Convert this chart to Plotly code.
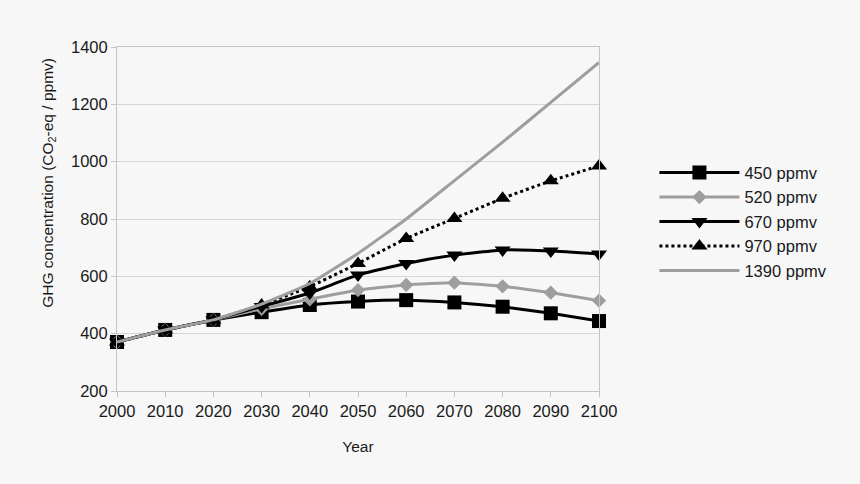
import plotly.graph_objects as go

# Years and GHG concentration scenarios (CO2-eq, ppmv)
years = [2000, 2010, 2020, 2030, 2040, 2050, 2060, 2070, 2080, 2090, 2100]
s450 = [371, 413, 448, 475, 500, 512, 517, 509, 494, 471, 444]
s520 = [371, 413, 448, 487, 520, 552, 570, 578, 565, 543, 515]
s670 = [371, 413, 448, 495, 542, 605, 645, 674, 692, 688, 678]
s970 = [371, 413, 448, 500, 564, 645, 732, 802, 872, 933, 985]
s1390 = [371, 413, 448, 503, 575, 680, 800, 934, 1068, 1207, 1346]

black = '#000000'
grey = '#9e9e9e'
txt = '#1a1a1a'

fig = go.Figure()

series = [
    ('450 ppmv', s450, black, 'solid', 'square', 14),
    ('520 ppmv', s520, grey, 'solid', 'diamond', 11),
    ('670 ppmv', s670, black, 'solid', 'triangle-down', 14),
    ('970 ppmv', s970, black, 'dot', 'triangle-up', 14),
    ('1390 ppmv', s1390, grey, 'solid', None, 0),
]

for i, (name, vals, col, dash, sym, size) in enumerate(series):
    fig.add_trace(go.Scatter(
        x=years, y=vals, name=name,
        mode='lines+markers' if sym else 'lines',
        line=dict(color=col, width=3, dash=dash, shape='spline', smoothing=0.4),
        marker=dict(symbol=sym, size=size, color=col) if sym else None,
        cliponaxis=False, legendgroup=str(i),
    ))

axis_common = dict(
    showline=True, linecolor='#c4c4c4', linewidth=1, mirror=True,
    ticks='outside', ticklen=5, tickcolor='#c4c4c4',
    tickfont=dict(family='Liberation Sans', size=16.5, color=txt),
)

fig.update_xaxes(range=[2000, 2100], dtick=10, showgrid=False, zeroline=False,
                 title=dict(text='Year', font=dict(family='Liberation Sans', size=15.5, color=txt),
                            standoff=22),
                 **axis_common)
fig.update_yaxes(range=[200, 1400], dtick=200, showgrid=True, gridcolor='#d6d6d6',
                 zeroline=False, **axis_common)

# y title sits a bit above the plot centre in the original, so place it by hand
fig.add_annotation(text='GHG concentration (CO<sub>2</sub>-eq / ppmv)',
                   xref='paper', yref='paper', x=-0.165, y=0.605,
                   textangle=-90, showarrow=False,
                   font=dict(family='Liberation Sans', size=15.5, color=txt))

fig.update_layout(
    width=860, height=484,
    margin=dict(l=117, r=261, t=47, b=93),
    paper_bgcolor='#f7f7f7', plot_bgcolor='#f7f7f7',
    font=dict(family='Liberation Sans', color=txt),
    legend=dict(x=1.115, y=0.685, xanchor='left', yanchor='top',
                font=dict(size=16.5, color=txt), itemwidth=80,
                tracegroupgap=0, bgcolor='rgba(0,0,0,0)'),
)

fig.write_html('out.html', config={'displayModeBar': False},
               post_script="document.body.style.margin='0';"
                           "document.body.style.background='#f7f7f7';")
